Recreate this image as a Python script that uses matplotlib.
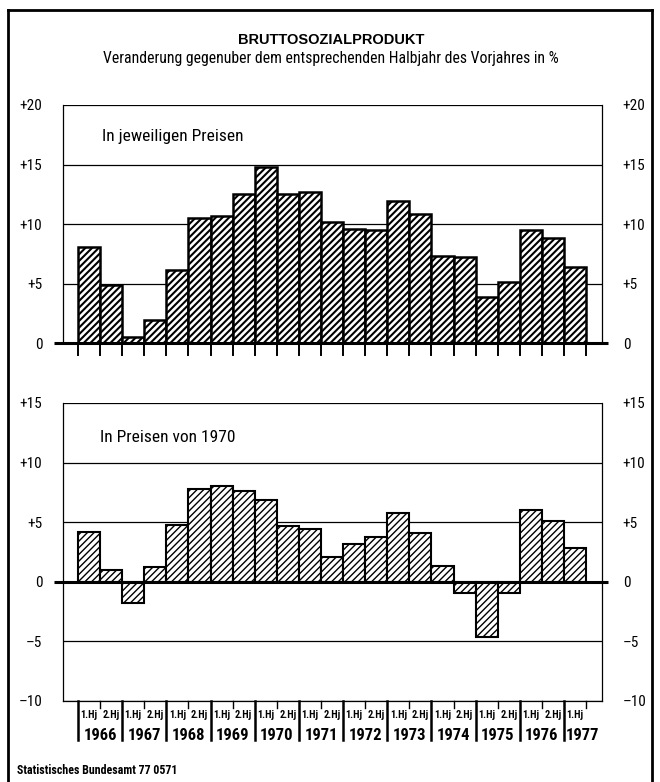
import matplotlib
matplotlib.use("Agg")
import matplotlib.pyplot as plt
import matplotlib.transforms as mtransforms
from matplotlib.lines import Line2D

plt.rcParams['font.family'] = ['Roboto Condensed', 'DejaVu Sans']

# ---------------- data ----------------
years = ["1966", "1967", "1968", "1969", "1970", "1971", "1972",
         "1973", "1974", "1975", "1976", "1977"]
halves = ["1.Hj", "2.Hj"] * 11 + ["1.Hj"]
nominal = [8.1, 4.9, 0.5, 1.9, 6.1, 10.5, 10.7, 12.5, 14.8, 12.5, 12.7, 10.2,
           9.6, 9.5, 11.9, 10.8, 7.3, 7.2, 3.9, 5.1, 9.5, 8.8, 6.4]
real = [4.2, 1.0, -1.8, 1.2, 4.8, 7.8, 8.0, 7.6, 6.9, 4.7, 4.4, 2.1,
        3.2, 3.8, 5.8, 4.1, 1.3, -0.9, -4.6, -0.9, 6.0, 5.1, 2.8]
top_ticks = [0, 5, 10, 15, 20]
top_ticklabels = ["0", "+5", "+10", "+15", "+20"]
bot_ticks = [-10, -5, 0, 5, 10, 15]
bot_ticklabels = ["\u201310", "\u20135", "0", "+5", "+10", "+15"]

title = "BRUTTOSOZIALPRODUKT"
subtitle = "Veranderung gegenuber dem entsprechenden Halbjahr des Vorjahres in %"
label_top = "In jeweiligen Preisen"
label_bot = "In Preisen von 1970"
footer = "Statistisches Bundesamt 77 0571"

# ---------------- layout ----------------
W, H = 660, 782
fig = plt.figure(figsize=(W / 100, H / 100), dpi=100)


def fx(px):
    return px / W


def fy(py):
    return 1 - py / H


XL, XR = -1.18, 23.22
n = len(nominal)
xs = list(range(n))

ax1 = fig.add_axes([fx(63), fy(343), fx(602) - fx(63), (343 - 105) / H])
ax2 = fig.add_axes([fx(63), fy(701), fx(602) - fx(63), (701 - 403) / H])

for ax, vals, ticks, tlabels, ylim, hatch, hlw, blw in (
        (ax1, nominal, top_ticks, top_ticklabels, (0, 20), '/' * 5, 1.5, 1.8),
        (ax2, real, bot_ticks, bot_ticklabels, (-10, 15), '/' * 5, 1.0, 1.5)):
    ax.set_xlim(XL, XR)
    ax.set_ylim(*ylim)
    ax.set_xticks([])
    ax.set_yticks(ticks, tlabels)
    ax.tick_params(axis='y', length=0, pad=15, labelleft=True,
                   labelright=True, labelsize=11)
    for s in ('left', 'right'):
        ax.spines[s].set_linewidth(0.9)
    ax.spines['top'].set_visible(False)
    for t in ticks:
        if t != 0:
            ax.axhline(t, color='black', lw=0.9, zorder=1)
    plt.rcParams['hatch.linewidth'] = hlw
    bars = ax.bar(xs, vals, width=1.0, facecolor='white', edgecolor='black',
                  hatch=hatch, linewidth=blw, zorder=3)
    for p in bars:
        if hasattr(p, 'set_hatch_linewidth'):
            p.set_hatch_linewidth(hlw)
    # thick zero line extending beyond the frame
    ax.plot([-1.59, 23.49], [0, 0], color='black', lw=2.2,
            clip_on=False, zorder=4, solid_capstyle='butt')

ax1.spines['bottom'].set_visible(False)
ax2.spines['bottom'].set_linewidth(0.9)

# tick marks below the zero line of the upper chart
tr1 = mtransforms.blended_transform_factory(ax1.transData, ax1.transAxes)
for e in range(n + 1):
    ax1.plot([e - 0.5, e - 0.5], [0, -0.05], color='black', lw=1.4,
             transform=tr1, clip_on=False)

# half-year / year axis below the lower chart
tr2 = mtransforms.blended_transform_factory(ax2.transData, ax2.transAxes)
for e in range(n + 1):
    if e % 2 == 0 and e < n:
        ax2.plot([e - 0.5, e - 0.5], [0, -0.131], color='black', lw=1.8,
                 transform=tr2, clip_on=False)
    else:
        ax2.plot([e - 0.5, e - 0.5], [0, -0.024], color='black', lw=1.0,
                 transform=tr2, clip_on=False)
for i, h in enumerate(halves):
    ax2.text(i, -0.047, h, transform=tr2, ha='center', va='center',
             fontsize=7.5, fontweight='bold')
for k, yr in enumerate(years):
    if 2 * k + 1 < n:
        ax2.text(2 * k + 0.5, -0.117, yr, transform=tr2, ha='center',
                 va='center', fontsize=12, fontweight='bold')
    else:
        ax2.text(2 * k - 0.4, -0.117, yr, transform=tr2, ha='left',
                 va='center', fontsize=12, fontweight='bold')

# texts
fig.text(fx(331), fy(40), title, ha='center', va='center', fontsize=10.5,
         fontweight='bold', family=['Liberation Sans', 'DejaVu Sans'])
fig.text(fx(331), fy(58), subtitle, ha='center', va='center', fontsize=11.3)
fig.text(fx(102), fy(137), label_top, ha='left', va='center', fontsize=12.5)
fig.text(fx(100), fy(437), label_bot, ha='left', va='center', fontsize=12.5)
fig.text(fx(17), fy(771), footer, ha='left', va='center', fontsize=8.6,
         fontweight='bold')

# outer frame
for xs_, ys_ in (([8, 8], [10, H]), ([652, 652], [10, H]), ([8, 652], [10, 10])):
    fig.add_artist(Line2D([fx(v) for v in xs_], [fy(v) for v in ys_],
                          transform=fig.transFigure, color='black', lw=2))

fig.savefig("out.png", dpi=100)
